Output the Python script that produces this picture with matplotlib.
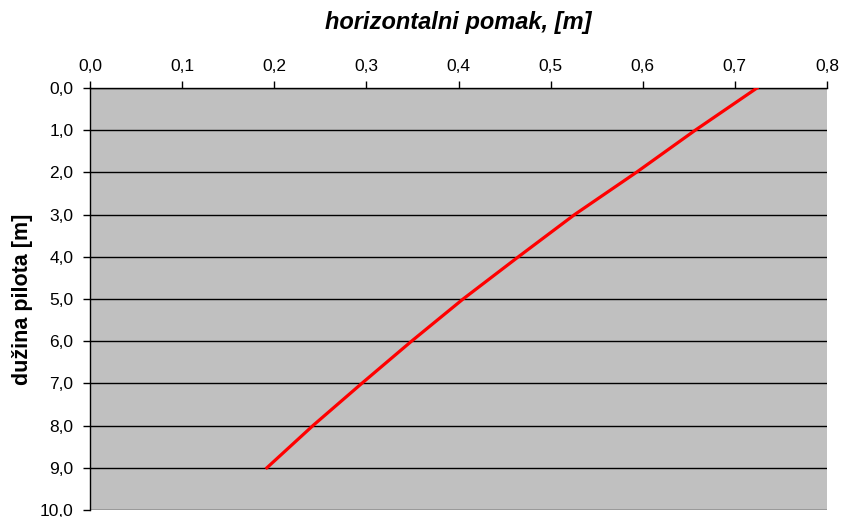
import matplotlib
matplotlib.use('Agg')
from matplotlib import pyplot as plt
from matplotlib.ticker import FuncFormatter

# depth along pile [m] and horizontal displacement [m]
depth = [0.0, 1.0, 2.0, 3.0, 4.0, 5.0, 6.0, 7.0, 8.0, 9.0]
displacement = [0.724, 0.657, 0.593, 0.526, 0.465, 0.405, 0.349, 0.295, 0.242, 0.192]

x_ticks = [0.0, 0.1, 0.2, 0.3, 0.4, 0.5, 0.6, 0.7, 0.8]
y_ticks = [0.0, 1.0, 2.0, 3.0, 4.0, 5.0, 6.0, 7.0, 8.0, 9.0, 10.0]

if __name__ == '__main__':
    plt.rcParams['font.family'] = ['Liberation Sans', 'DejaVu Sans']
    fig = plt.figure(figsize=(8.45, 5.17), dpi=100)
    ax = fig.add_axes([90 / 845, 1 - 510 / 517, (827 - 90) / 845, (510 - 88) / 517])
    ax.set_facecolor('#c0c0c0')

    ax.plot(displacement, depth, color='red', lw=2.3, zorder=3)

    ax.set_xlim(0, 0.8)
    ax.set_ylim(10, 0)
    ax.set_xticks(x_ticks)
    ax.set_yticks(y_ticks)
    comma = FuncFormatter(lambda v, p: ('%.1f' % v).replace('.', ','))
    ax.xaxis.set_major_formatter(comma)
    ax.yaxis.set_major_formatter(comma)
    ax.xaxis.tick_top()
    ax.xaxis.set_label_position('top')
    ax.tick_params(axis='both', direction='out', length=5, width=1, labelsize=12.5, color='black')
    ax.tick_params(axis='x', pad=5)
    ax.tick_params(axis='y', pad=7)
    ax.yaxis.grid(True, color='black', lw=1)
    ax.set_axisbelow(True)
    for side in ['right', 'bottom']:
        ax.spines[side].set_visible(False)
    ax.spines['top'].set_linewidth(1)
    ax.spines['left'].set_linewidth(1)

    ax.set_xlabel('horizontalni pomak, [m]', fontsize=17, fontweight='bold',
                  fontstyle='italic', labelpad=22)
    ax.set_ylabel('dužina pilota [m]', fontsize=15.5, fontweight='bold', labelpad=5)

    fig.savefig('out.png', dpi=100)
